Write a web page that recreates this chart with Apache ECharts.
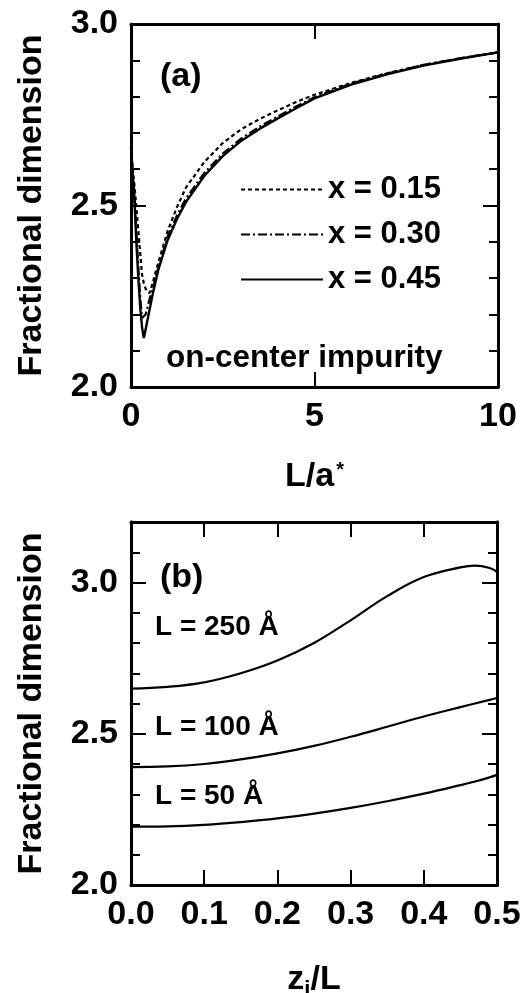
<!DOCTYPE html>
<html>
<head>
<meta charset="utf-8">
<script src="https://cdn.jsdelivr.net/npm/echarts@6/dist/echarts.min.js"></script>
<style>
  html, body { margin: 0; padding: 0; background: #fff; }
  #container { width: 520px; height: 993px; }
</style>
</head>
<body>
<div id="container"></div>
<script>
// panel (a): fractional dimension vs L/a*
const lenA = [0, 0.05, 0.1, 0.15, 0.2, 0.25, 0.3, 0.35, 0.4, 0.5, 0.6, 0.75, 1.0, 1.25, 1.5, 2, 2.5, 3, 3.5, 4, 4.5, 5, 6, 7, 8, 9, 10]
const dimX15 = [2.66, 2.6, 2.55, 2.49, 2.43, 2.37, 2.31, 2.285, 2.27, 2.258, 2.29, 2.345, 2.43, 2.495, 2.55, 2.62, 2.672, 2.71, 2.738, 2.762, 2.785, 2.805, 2.838, 2.865, 2.888, 2.906, 2.922]
const dimX30 = [2.66, 2.59, 2.52, 2.42, 2.33, 2.25, 2.19, 2.185, 2.2, 2.24, 2.275, 2.33, 2.415, 2.472, 2.52, 2.59, 2.643, 2.684, 2.717, 2.745, 2.773, 2.798, 2.836, 2.864, 2.888, 2.906, 2.922]
const dimX45 = [2.66, 2.58, 2.5, 2.39, 2.3, 2.22, 2.165, 2.135, 2.16, 2.21, 2.26, 2.325, 2.405, 2.462, 2.51, 2.582, 2.636, 2.678, 2.711, 2.74, 2.768, 2.795, 2.833, 2.862, 2.886, 2.905, 2.922]
const legendA = ['x = 0.15', 'x = 0.30', 'x = 0.45']

// panel (b): fractional dimension vs zi/L
const posB = [0, 0.05, 0.1, 0.15, 0.2, 0.25, 0.3, 0.35, 0.4, 0.45, 0.47, 0.49, 0.5]
const dimL250 = [2.649, 2.655, 2.67, 2.7, 2.742, 2.8, 2.875, 2.955, 3.018, 3.05, 3.056, 3.048, 3.035]
const dimL100 = [2.39, 2.392, 2.4, 2.415, 2.435, 2.46, 2.49, 2.523, 2.557, 2.588, 2.6, 2.612, 2.618]
const dimL50 = [2.193, 2.194, 2.199, 2.208, 2.22, 2.236, 2.255, 2.277, 2.302, 2.33, 2.342, 2.356, 2.364]
const labelsB = ['L = 250 Å', 'L = 100 Å', 'L = 50 Å']

const FONT = 'Liberation Sans'
const zip = (xs, ys) => xs.map((x, i) => [x, ys[i]])

const chart = echarts.init(document.getElementById('container'))

const line = { lineStyle: { color: '#000', width: 3 }, onZero: false }
const tickMajor = { inside: true, length: 15, lineStyle: { color: '#000', width: 2 } }
const labelStyle = { color: '#000', fontFamily: FONT, fontWeight: 'bold', fontSize: 34 }

function xAxis(grid, pos, min, max, interval, withLabel, fmt) {
  return {
    type: 'value', gridIndex: grid, position: pos, min: min, max: max, interval: interval,
    axisLine: line, axisTick: tickMajor, splitLine: { show: false },
    axisLabel: withLabel ? Object.assign({ margin: 13, formatter: fmt }, labelStyle) : { show: false }
  }
}

function yAxis(grid, pos, min, max, interval, opts) {
  return Object.assign({
    type: 'value', gridIndex: grid, position: pos, min: min, max: max, interval: interval,
    axisLine: line, axisTick: tickMajor, splitLine: { show: false },
    axisLabel: { show: false }
  }, opts || {})
}

const yLabel = Object.assign({ margin: 13, formatter: v => v > 3.1 ? '' : v.toFixed(1) }, labelStyle)
const minorTicks = { inside: true, length: 9, lineStyle: { color: '#000', width: 2 } }
const yName = {
  name: 'Fractional dimension', nameLocation: 'middle', nameGap: 82,
  nameTextStyle: { color: '#000', fontFamily: FONT, fontWeight: 'bold', fontSize: 34 }
}

const option = {
  backgroundColor: '#fff',
  animation: false,
  grid: [
    { left: 131, top: 24, width: 367, height: 363, outerBoundsMode: 'none' },
    { left: 131, top: 522, width: 366, height: 363, outerBoundsMode: 'none' }
  ],
  legend: {
    data: legendA,
    orient: 'vertical',
    left: 235, top: 169,
    itemWidth: 82, itemHeight: 14, itemGap: 14,
    itemStyle: { opacity: 0 },
    textStyle: { color: '#000', fontFamily: FONT, fontWeight: 'bold', fontSize: 31 }
  },
  xAxis: [
    Object.assign(xAxis(0, 'bottom', 0, 10, 5, true, v => String(v)), {
      name: '{m|L/a}{s|*}', nameLocation: 'middle', nameGap: 73,
      nameTextStyle: {
        rich: {
          m: { color: '#000', fontFamily: FONT, fontWeight: 'bold', fontSize: 34 },
          s: { color: '#000', fontFamily: FONT, fontWeight: 'bold', fontSize: 20, verticalAlign: 'top', padding: [0, 0, 0, 2] }
        }
      }
    }),
    xAxis(0, 'top', 0, 10, 5, false),
    Object.assign(xAxis(1, 'bottom', 0, 0.5, 0.1, true, v => v.toFixed(1)), {
      name: '{m|z}{s|i}{m|/L}', nameLocation: 'middle', nameGap: 74,
      nameTextStyle: {
        rich: {
          m: { color: '#000', fontFamily: FONT, fontWeight: 'bold', fontSize: 34 },
          s: { color: '#000', fontFamily: FONT, fontWeight: 'bold', fontSize: 22, verticalAlign: 'bottom', padding: [20, 0, 0, 0] }
        }
      }
    }),
    xAxis(1, 'top', 0, 0.5, 0.1, false)
  ],
  yAxis: [
    yAxis(0, 'left', 2, 3, 0.5, Object.assign({
      axisLabel: yLabel,
      minorTick: Object.assign({ show: true, splitNumber: 5 }, minorTicks)
    }, yName)),
    yAxis(0, 'right', 2, 3, 0.5, {
      minorTick: Object.assign({ show: true, splitNumber: 5 }, minorTicks)
    }),
    yAxis(1, 'left', 2, 3.2, 0.5, Object.assign({ axisLabel: yLabel }, yName)),
    yAxis(1, 'left', 2, 3.2, 0.1, { axisTick: minorTicks }),
    yAxis(1, 'right', 2, 3.2, 0.5),
    yAxis(1, 'right', 2, 3.2, 0.1, { axisTick: minorTicks })
  ],
  graphic: [
    { type: 'text', x: 160, y: 77, style: { text: '(a)', font: 'bold 34px ' + FONT, fill: '#000', verticalAlign: 'middle' } },
    { type: 'text', x: 166, y: 358, style: { text: 'on-center impurity', font: 'bold 31.5px ' + FONT, fill: '#000', verticalAlign: 'middle' } },
    { type: 'text', x: 160, y: 578, style: { text: '(b)', font: 'bold 34px ' + FONT, fill: '#000', verticalAlign: 'middle' } },
    { type: 'text', x: 155, y: 627, style: { text: labelsB[0], font: 'bold 28px ' + FONT, fill: '#000', verticalAlign: 'middle' } },
    { type: 'text', x: 155, y: 727, style: { text: labelsB[1], font: 'bold 28px ' + FONT, fill: '#000', verticalAlign: 'middle' } },
    { type: 'text', x: 155, y: 796, style: { text: labelsB[2], font: 'bold 28px ' + FONT, fill: '#000', verticalAlign: 'middle' } }
  ],
  series: [
    {
      name: legendA[0], type: 'line', xAxisIndex: 0, yAxisIndex: 0, data: zip(lenA, dimX15),
      showSymbol: false, smooth: false,
      lineStyle: { color: '#000', width: 2.2, type: [4, 3] }, itemStyle: { color: '#000' }
    },
    {
      name: legendA[1], type: 'line', xAxisIndex: 0, yAxisIndex: 0, data: zip(lenA, dimX30),
      showSymbol: false, smooth: false,
      lineStyle: { color: '#000', width: 2.2, type: [9, 3, 2, 3] }, itemStyle: { color: '#000' }
    },
    {
      name: legendA[2], type: 'line', xAxisIndex: 0, yAxisIndex: 0, data: zip(lenA, dimX45),
      showSymbol: false, smooth: false,
      lineStyle: { color: '#000', width: 2.4 }, itemStyle: { color: '#000' }
    },
    {
      name: labelsB[0], type: 'line', xAxisIndex: 2, yAxisIndex: 2, data: zip(posB, dimL250),
      showSymbol: false, smooth: 0.4,
      lineStyle: { color: '#000', width: 2.2 }
    },
    {
      name: labelsB[1], type: 'line', xAxisIndex: 2, yAxisIndex: 2, data: zip(posB, dimL100),
      showSymbol: false, smooth: 0.4,
      lineStyle: { color: '#000', width: 2.2 }
    },
    {
      name: labelsB[2], type: 'line', xAxisIndex: 2, yAxisIndex: 2, data: zip(posB, dimL50),
      showSymbol: false, smooth: 0.4,
      lineStyle: { color: '#000', width: 2.2 }
    }
  ]
}

chart.setOption(option)
</script>
</body>
</html>
